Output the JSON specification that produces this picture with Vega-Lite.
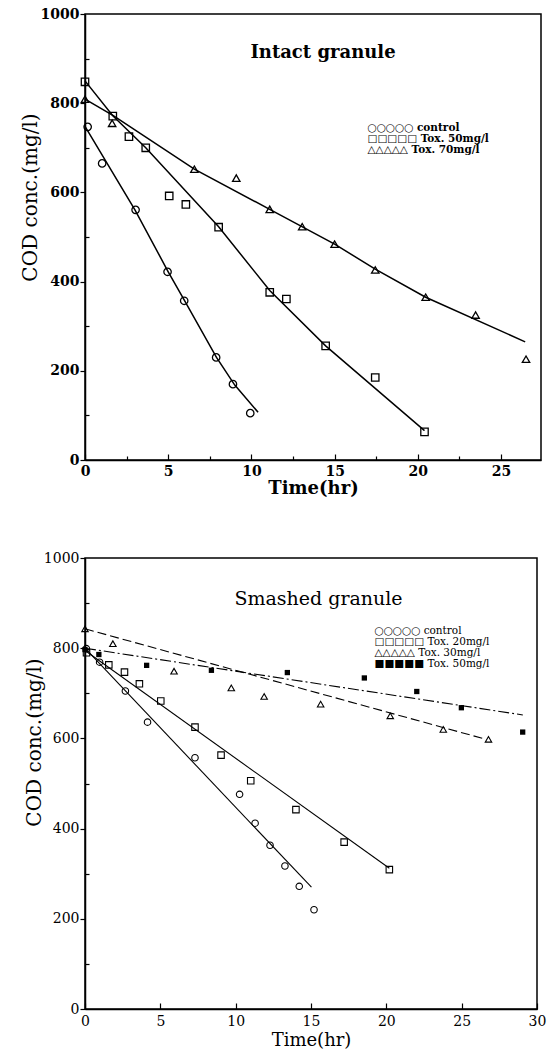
{
  "$schema": "https://vega.github.io/schema/vega-lite/v6.json",
  "background": "white",
  "padding": {"left": 19, "top": 6, "right": 0, "bottom": 0},
  "columns": 1,
  "spacing": 52,
  "resolve": {"scale": {"x": "independent", "y": "independent", "shape": "independent"}, "legend": {"shape": "independent"}},
  "datasets": {
    "topPts": [
      {"series": "control", "t": 0.16, "cod": 747}, {"series": "control", "t": 1.03, "cod": 665}, {"series": "control", "t": 3.04, "cod": 561}, {"series": "control", "t": 4.96, "cod": 422}, {"series": "control", "t": 5.96, "cod": 357}, {"series": "control", "t": 7.88, "cod": 230}, {"series": "control", "t": 8.89, "cod": 170}, {"series": "control", "t": 9.93, "cod": 105},
      {"series": "Tox. 50mg/l", "t": 0, "cod": 848}, {"series": "Tox. 50mg/l", "t": 1.67, "cod": 771}, {"series": "Tox. 50mg/l", "t": 2.64, "cod": 725}, {"series": "Tox. 50mg/l", "t": 3.65, "cod": 700}, {"series": "Tox. 50mg/l", "t": 5.06, "cod": 592}, {"series": "Tox. 50mg/l", "t": 6.06, "cod": 573}, {"series": "Tox. 50mg/l", "t": 8.03, "cod": 522}, {"series": "Tox. 50mg/l", "t": 11.1, "cod": 376}, {"series": "Tox. 50mg/l", "t": 12.1, "cod": 361}, {"series": "Tox. 50mg/l", "t": 14.46, "cod": 256}, {"series": "Tox. 50mg/l", "t": 17.44, "cod": 185}, {"series": "Tox. 50mg/l", "t": 20.4, "cod": 63},
      {"series": "Tox. 70mg/l", "t": 0, "cod": 809}, {"series": "Tox. 70mg/l", "t": 1.63, "cod": 755}, {"series": "Tox. 70mg/l", "t": 6.57, "cod": 652}, {"series": "Tox. 70mg/l", "t": 9.09, "cod": 632}, {"series": "Tox. 70mg/l", "t": 11.1, "cod": 562}, {"series": "Tox. 70mg/l", "t": 13.05, "cod": 523}, {"series": "Tox. 70mg/l", "t": 15.0, "cod": 484}, {"series": "Tox. 70mg/l", "t": 17.44, "cod": 426}, {"series": "Tox. 70mg/l", "t": 20.47, "cod": 365}, {"series": "Tox. 70mg/l", "t": 23.47, "cod": 325}, {"series": "Tox. 70mg/l", "t": 26.5, "cod": 226}
    ],
    "topFit": [
      {"series": "control", "t": 0, "cod": 748}, {"series": "control", "t": 3, "cod": 561}, {"series": "control", "t": 5, "cod": 422}, {"series": "control", "t": 6, "cod": 356}, {"series": "control", "t": 7.9, "cod": 230}, {"series": "control", "t": 9, "cod": 168}, {"series": "control", "t": 10.4, "cod": 107},
      {"series": "Tox. 50mg/l", "t": 0, "cod": 850}, {"series": "Tox. 50mg/l", "t": 1.67, "cod": 772}, {"series": "Tox. 50mg/l", "t": 3.65, "cod": 700}, {"series": "Tox. 50mg/l", "t": 8.03, "cod": 523}, {"series": "Tox. 50mg/l", "t": 11.1, "cod": 380}, {"series": "Tox. 50mg/l", "t": 14.46, "cod": 256}, {"series": "Tox. 50mg/l", "t": 20.4, "cod": 66},
      {"series": "Tox. 70mg/l", "t": 0, "cod": 809}, {"series": "Tox. 70mg/l", "t": 1.7, "cod": 772}, {"series": "Tox. 70mg/l", "t": 6.57, "cod": 652}, {"series": "Tox. 70mg/l", "t": 11.1, "cod": 562}, {"series": "Tox. 70mg/l", "t": 15, "cod": 484}, {"series": "Tox. 70mg/l", "t": 17.44, "cod": 428}, {"series": "Tox. 70mg/l", "t": 20.47, "cod": 365}, {"series": "Tox. 70mg/l", "t": 26.45, "cod": 265}
    ],
    "botPts": [
      {"series": "control", "t": 0.09, "cod": 799}, {"series": "control", "t": 0.97, "cod": 769}, {"series": "control", "t": 2.68, "cod": 705}, {"series": "control", "t": 4.15, "cod": 636}, {"series": "control", "t": 7.3, "cod": 557}, {"series": "control", "t": 10.26, "cod": 476}, {"series": "control", "t": 11.29, "cod": 412}, {"series": "control", "t": 12.28, "cod": 363}, {"series": "control", "t": 13.27, "cod": 317}, {"series": "control", "t": 14.22, "cod": 272}, {"series": "control", "t": 15.2, "cod": 220},
      {"series": "Tox. 20mg/l", "t": 0.1, "cod": 790}, {"series": "Tox. 20mg/l", "t": 1.58, "cod": 763}, {"series": "Tox. 20mg/l", "t": 2.62, "cod": 747}, {"series": "Tox. 20mg/l", "t": 3.61, "cod": 721}, {"series": "Tox. 20mg/l", "t": 5.03, "cod": 683}, {"series": "Tox. 20mg/l", "t": 7.3, "cod": 625}, {"series": "Tox. 20mg/l", "t": 9.03, "cod": 563}, {"series": "Tox. 20mg/l", "t": 11.0, "cod": 506}, {"series": "Tox. 20mg/l", "t": 14.0, "cod": 442}, {"series": "Tox. 20mg/l", "t": 17.2, "cod": 370}, {"series": "Tox. 20mg/l", "t": 20.2, "cod": 309},
      {"series": "Tox. 30mg/l", "t": 0, "cod": 843}, {"series": "Tox. 30mg/l", "t": 1.85, "cod": 810}, {"series": "Tox. 30mg/l", "t": 5.91, "cod": 749}, {"series": "Tox. 30mg/l", "t": 9.71, "cod": 712}, {"series": "Tox. 30mg/l", "t": 11.89, "cod": 693}, {"series": "Tox. 30mg/l", "t": 15.64, "cod": 676}, {"series": "Tox. 30mg/l", "t": 20.26, "cod": 650}, {"series": "Tox. 30mg/l", "t": 23.78, "cod": 620}, {"series": "Tox. 30mg/l", "t": 26.78, "cod": 598},
      {"series": "Tox. 50mg/l", "t": 0, "cod": 797}, {"series": "Tox. 50mg/l", "t": 0.92, "cod": 786}, {"series": "Tox. 50mg/l", "t": 4.09, "cod": 762}, {"series": "Tox. 50mg/l", "t": 8.39, "cod": 751}, {"series": "Tox. 50mg/l", "t": 13.43, "cod": 746}, {"series": "Tox. 50mg/l", "t": 18.54, "cod": 734}, {"series": "Tox. 50mg/l", "t": 22.02, "cod": 704}, {"series": "Tox. 50mg/l", "t": 24.98, "cod": 668}, {"series": "Tox. 50mg/l", "t": 29.05, "cod": 614}
    ],
    "botFit": [
      {"series": "control", "t": 0, "cod": 800}, {"series": "control", "t": 15.03, "cod": 270},
      {"series": "Tox. 20mg/l", "t": 0, "cod": 795}, {"series": "Tox. 20mg/l", "t": 20.2, "cod": 312},
      {"series": "Tox. 30mg/l", "t": 0, "cod": 843}, {"series": "Tox. 30mg/l", "t": 26.5, "cod": 599},
      {"series": "Tox. 50mg/l", "t": 0, "cod": 800}, {"series": "Tox. 50mg/l", "t": 29.06, "cod": 652}
    ]
  },
  "concat": [
    {
      "width": 456,
      "height": 446,
      "layer": [
        {"data": {"name": "topFit"}, "mark": {"type": "line", "color": "black", "strokeWidth": 1.5},
          "encoding": {
            "x": {"field": "t", "type": "quantitative", "scale": {"domain": [0, 27.4], "nice": false},
              "axis": {"values": [0, 2.5, 5, 7.5, 10, 12.5, 15, 17.5, 20, 22.5, 25], "labelExpr": "datum.value % 5 == 0 ? datum.label : ''",
                "tickSize": {"condition": {"test": "datum.value % 5 == 0", "value": -6}, "value": -4},
                "labelPadding": 10, "title": "Time(hr)", "titleFontSize": 18, "titleFontWeight": "bold", "titlePadding": 1,
                "labelFontSize": 14, "labelFontWeight": "bold"}},
            "y": {"field": "cod", "type": "quantitative", "scale": {"domain": [0, 1000], "nice": false},
              "axis": {"values": [0, 100, 200, 300, 400, 500, 600, 700, 800, 900, 1000], "format": "d", "labelExpr": "datum.value % 200 == 0 ? datum.label : ''",
                "tickSize": {"condition": {"test": "datum.value % 200 == 0", "value": 5}, "value": -4},
                "labelPadding": 1, "title": "COD conc.(mg/l)", "titleFontSize": 20, "titleFontWeight": "normal",
                "titleX": -55, "titleY": 183, "titleBaseline": "middle",
                "labelFontSize": 14, "labelFontWeight": "bold"}},
            "detail": {"field": "series"}}},
        {"data": {"name": "topPts"}, "mark": {"type": "point", "filled": false, "color": "black", "size": 55, "strokeWidth": 1.3, "opacity": 1},
          "encoding": {
            "x": {"field": "t", "type": "quantitative"},
            "y": {"field": "cod", "type": "quantitative"},
            "shape": {"field": "series", "type": "nominal",
            "scale": {"domain": ["control", "Tox. 50mg/l", "Tox. 70mg/l"], "range": ["circle", "square", "triangle-up"]},
            "legend": {"orient": "none", "legendX": 272, "legendY": 109, "title": null, "symbolSize": 0, "symbolStrokeWidth": 0, "symbolOpacity": 0,
              "labelOffset": 0, "labelFontSize": 10.5, "labelFontWeight": "bold", "rowPadding": 0, "padding": 0, "labelLimit": 300,
              "labelExpr": "(datum.label == 'control' ? '○○○○○ ' : datum.label == 'Tox. 50mg/l' ? '□□□□□ ' : '△△△△△ ') + datum.label"}}}},
        {"data": {"values": [{}]}, "mark": {"type": "text", "fontSize": 18, "fontWeight": "bold", "color": "black"},
          "encoding": {"x": {"datum": 14.3, "type": "quantitative"}, "y": {"datum": 912, "type": "quantitative"}, "text": {"value": "Intact granule"}}}
      ]
    },
    {
      "width": 452,
      "height": 451,
      "layer": [
        {"data": {"name": "botFit"}, "transform": [{"filter": "datum.series == 'control' || datum.series == 'Tox. 20mg/l'"}],
          "mark": {"type": "line", "color": "black", "strokeWidth": 1.1},
          "encoding": {
            "x": {"field": "t", "type": "quantitative", "scale": {"domain": [0, 30], "nice": false},
              "axis": {"values": [0, 2.5, 5, 7.5, 10, 12.5, 15, 17.5, 20, 22.5, 25, 27.5, 30], "labelExpr": "datum.value % 5 == 0 ? datum.label : ''",
                "tickSize": {"condition": {"test": "datum.value % 5 == 0", "value": -6}, "value": -4},
                "labelPadding": 11, "title": "Time(hr)", "titleFontSize": 18, "titleFontWeight": "normal", "titlePadding": 3,
                "labelFontSize": 14, "labelFontWeight": "normal"}},
            "y": {"field": "cod", "type": "quantitative", "scale": {"domain": [0, 1000], "nice": false},
              "axis": {"values": [0, 100, 200, 300, 400, 500, 600, 700, 800, 900, 1000], "format": "d", "labelExpr": "datum.value % 200 == 0 ? datum.label : ''",
                "tickSize": {"condition": {"test": "datum.value % 200 == 0", "value": 5}, "value": -4},
                "labelPadding": 1, "title": "COD conc.(mg/l)", "titleFontSize": 20, "titleFontWeight": "normal",
                "titleX": -51, "titleY": 184, "titleBaseline": "middle",
                "labelFontSize": 14, "labelFontWeight": "normal"}},
            "detail": {"field": "series"}}},
        {"data": {"name": "botFit"}, "transform": [{"filter": "datum.series == 'Tox. 30mg/l'"}],
          "mark": {"type": "line", "color": "black", "strokeWidth": 1.1, "strokeDash": [9, 4]},
          "encoding": {"x": {"field": "t", "type": "quantitative"}, "y": {"field": "cod", "type": "quantitative"}}},
        {"data": {"name": "botFit"}, "transform": [{"filter": "datum.series == 'Tox. 50mg/l'"}],
          "mark": {"type": "line", "color": "black", "strokeWidth": 1.1, "strokeDash": [11, 3, 2, 3]},
          "encoding": {"x": {"field": "t", "type": "quantitative"}, "y": {"field": "cod", "type": "quantitative"}}},
        {"data": {"name": "botPts"}, "transform": [{"filter": "datum.series != 'Tox. 50mg/l'"}],
          "mark": {"type": "point", "filled": false, "color": "black", "size": 42, "strokeWidth": 1.1, "opacity": 1},
          "encoding": {
            "x": {"field": "t", "type": "quantitative"},
            "y": {"field": "cod", "type": "quantitative"},
            "shape": {"field": "series", "type": "nominal",
              "scale": {"domain": ["control", "Tox. 20mg/l", "Tox. 30mg/l", "Tox. 50mg/l"], "range": ["circle", "square", "triangle-up", "square"]},
              "legend": {"orient": "none", "legendX": 279, "legendY": 68, "title": null, "symbolSize": 0, "symbolStrokeWidth": 0, "symbolOpacity": 0,
                "labelOffset": 0, "labelFontSize": 10.5, "labelFontWeight": "normal", "rowPadding": 0, "padding": 0, "labelLimit": 300,
                "labelExpr": "(datum.label == 'control' ? '○○○○○ ' : datum.label == 'Tox. 20mg/l' ? '□□□□□ ' : datum.label == 'Tox. 30mg/l' ? '△△△△△ ' : '■■■■■ ') + datum.label"}}
          }},
        {"data": {"name": "botPts"}, "transform": [{"filter": "datum.series == 'Tox. 50mg/l'"}],
          "mark": {"type": "point", "shape": "square", "filled": true, "color": "black", "size": 28, "opacity": 1},
          "encoding": {
            "x": {"field": "t", "type": "quantitative"},
            "y": {"field": "cod", "type": "quantitative"}
          }},
        {"data": {"values": [{}]}, "mark": {"type": "text", "fontSize": 19, "fontWeight": "normal", "color": "black"},
          "encoding": {"x": {"datum": 15.5, "type": "quantitative"}, "y": {"datum": 908, "type": "quantitative"}, "text": {"value": "Smashed granule"}}}
      ]
    }
  ],
  "config": {
    "font": "DejaVu Serif",
    "view": {"stroke": "black", "strokeWidth": 1.5},
    "axis": {"grid": false, "domainColor": "black", "domainWidth": 1.5, "tickColor": "black", "tickWidth": 1.2,
      "labelColor": "black", "titleColor": "black", "labelFont": "DejaVu Serif", "titleFont": "DejaVu Serif", "labelFlush": false},
    "legend": {"labelColor": "black", "labelFont": "DejaVu Serif"},
    "text": {"font": "DejaVu Serif"}
  }
}
